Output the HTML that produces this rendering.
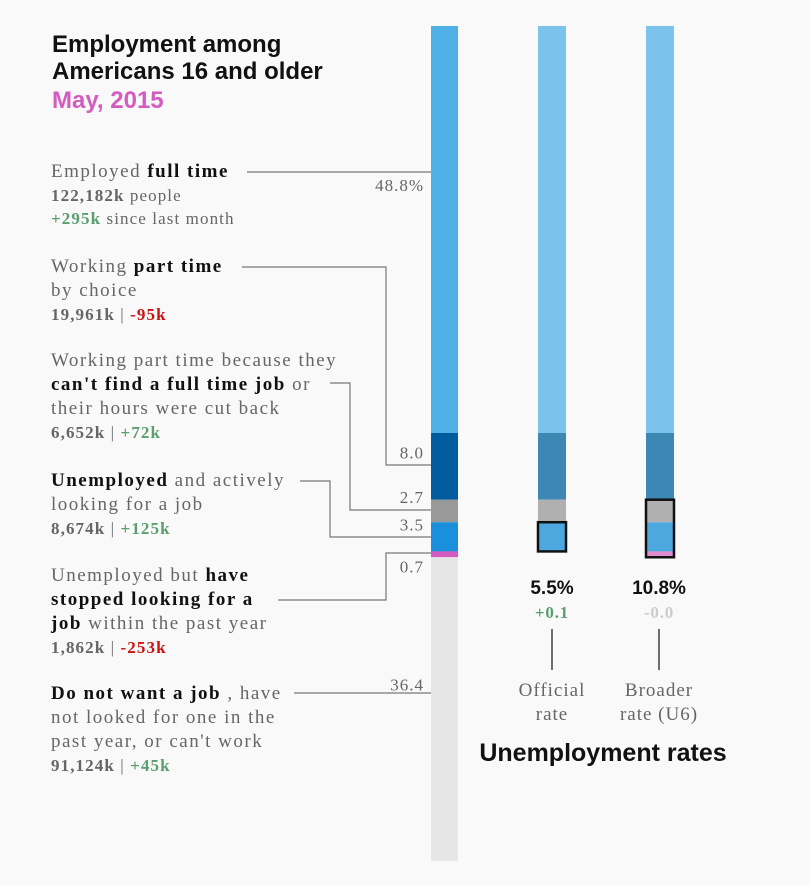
<!DOCTYPE html>
<html><head><meta charset="utf-8">
<style>
html,body{margin:0;padding:0;background:#f9f9f9;}
svg{display:block;}
.serif{font-family:"Liberation Serif","DejaVu Serif",serif;}
.sans{font-family:"Liberation Sans","DejaVu Sans",sans-serif;}
.lbl{font-size:19px;fill:#666;letter-spacing:1.5px;}
.b{font-weight:bold;fill:#111;}
.st{font-size:17px;fill:#666;letter-spacing:1.1px;}
.sb{font-weight:bold;fill:#666;}
.g{fill:#5a9e6f;font-weight:bold;}
.r{fill:#cc1111;font-weight:bold;}
.val{font-size:17px;fill:#666;text-anchor:end;letter-spacing:1px;}
</style></head>
<body>
<svg id="chart" width="810" height="886">
  <g class="sans" font-weight="bold">
    <text x="52" y="52" font-size="24" fill="#111">Employment among</text>
    <text x="52" y="79" font-size="24" fill="#111">Americans 16 and older</text>
    <text x="52" y="108" font-size="24" fill="#d45bbf">May, 2015</text>
  </g>

  <g class="serif">
    <text x="51" y="177" class="lbl">Employed <tspan class="b">full time</tspan></text>
    <text x="51" y="201" class="st"><tspan class="sb">122,182k</tspan> people</text>
    <text x="51" y="224" class="st"><tspan class="g">+295k</tspan> since last month</text>
  </g>
  <g class="serif">
    <text x="51" y="272" class="lbl">Working <tspan class="b">part time</tspan></text>
    <text x="51" y="296" class="lbl">by choice</text>
    <text x="51" y="320" class="st"><tspan class="sb">19,961k</tspan> | <tspan class="r">-95k</tspan></text>
  </g>
  <g class="serif">
    <text x="51" y="366" class="lbl">Working part time because they</text>
    <text x="51" y="390" class="lbl"><tspan class="b">can't find a full time job</tspan> or</text>
    <text x="51" y="414" class="lbl">their hours were cut back</text>
    <text x="51" y="438" class="st"><tspan class="sb">6,652k</tspan> | <tspan class="g">+72k</tspan></text>
  </g>
  <g class="serif">
    <text x="51" y="486" class="lbl"><tspan class="b">Unemployed</tspan>  and actively</text>
    <text x="51" y="510" class="lbl">looking for a job</text>
    <text x="51" y="534" class="st"><tspan class="sb">8,674k</tspan> |   <tspan class="g">+125k</tspan></text>
  </g>
  <g class="serif">
    <text x="51" y="581" class="lbl">Unemployed but  <tspan class="b">have</tspan></text>
    <text x="51" y="605" class="lbl b">stopped looking for a</text>
    <text x="51" y="629" class="lbl"><tspan class="b">job</tspan>  within the past year</text>
    <text x="51" y="653" class="st"><tspan class="sb">1,862k</tspan> | <tspan class="r">-253k</tspan></text>
  </g>
  <g class="serif">
    <text x="51" y="699" class="lbl"><tspan class="b">Do not want a job</tspan> , have</text>
    <text x="51" y="723" class="lbl">not looked for one in the</text>
    <text x="51" y="747" class="lbl">past year, or can't work</text>
    <text x="51" y="771" class="st"><tspan class="sb">91,124k</tspan> | <tspan class="g">+45k</tspan></text>
  </g>

  <g fill="none" stroke="#777" stroke-width="1.2">
    <path d="M247 172 H431"/>
    <path d="M242 267 H386 V465 H431"/>
    <path d="M330 383 H350 V510 H431"/>
    <path d="M300 481 H330 V537 H431"/>
    <path d="M278 600 H386 V553 H431"/>
    <path d="M294 693 H431"/>
  </g>

  <g id="mainbar"></g>
  <g id="values" class="serif"></g>
  <g id="rates"></g>

  <g>
    <text x="552" y="594" class="sans" font-size="19" font-weight="bold" fill="#111" text-anchor="middle">5.5%</text>
    <text x="552" y="618" class="serif" font-size="17" font-weight="bold" fill="#5a9e6f" text-anchor="middle" letter-spacing="0.8">+0.1</text>
    <text x="659" y="594" class="sans" font-size="19" font-weight="bold" fill="#111" text-anchor="middle">10.8%</text>
    <text x="659" y="618" class="serif" font-size="17" font-weight="bold" fill="#ccc" text-anchor="middle" letter-spacing="0.8">-0.0</text>
    <line x1="552" y1="629" x2="552" y2="670" stroke="#111" stroke-width="1.2"/>
    <line x1="659" y1="629" x2="659" y2="670" stroke="#111" stroke-width="1.2"/>
    <text x="552" y="696" class="serif" font-size="19" fill="#666" text-anchor="middle" letter-spacing="1">Official</text>
    <text x="552" y="720" class="serif" font-size="19" fill="#666" text-anchor="middle" letter-spacing="1">rate</text>
    <text x="659" y="696" class="serif" font-size="19" fill="#666" text-anchor="middle" letter-spacing="1">Broader</text>
    <text x="659" y="720" class="serif" font-size="19" fill="#666" text-anchor="middle" letter-spacing="1">rate (U6)</text>
    <text x="603" y="761" class="sans" font-size="25" font-weight="bold" fill="#111" text-anchor="middle">Unemployment rates</text>
  </g>
</svg>
<script>
var categories = ["Full time","Part time by choice","Part time economic","Unemployed","Discouraged","Not in labor force"];
var shares = [48.8, 8.0, 2.7, 3.5, 0.7, 36.4];
var valueLabels = ["48.8%","8.0","2.7","3.5","0.7","36.4"];
var mainColors = ["#4fb0e5","#005c9e","#999999","#1a8fdc","#d45bbf","#e6e6e6"];
var rateColors = ["#7cc3ec","#3d87b5","#b0b0b0","#4da8e0","#e08ccc","none"];
var officialBox = [3, 3];
var u6Box = [2, 4];

var top0 = 26, bottom0 = 860;
function y(pct){ return top0 + (bottom0 - top0) * pct / 100; }
function cum(i){ var s=0; for(var k=0;k<i;k++) s+=shares[k]; return s; }
var NS = "http://www.w3.org/2000/svg";
var main = document.getElementById('mainbar');
var vals = document.getElementById('values');
var rates = document.getElementById('rates');

for (var i=0;i<shares.length;i++){
  var r = document.createElementNS(NS,'rect');
  r.setAttribute('x',431); r.setAttribute('width',27);
  r.setAttribute('y',y(cum(i))); r.setAttribute('height',y(cum(i+1))-y(cum(i)));
  r.setAttribute('fill',mainColors[i]);
  
  
  main.appendChild(r);
  var t = document.createElementNS(NS,'text');
  var yy;
  if(i===0) yy = y(cum(i)) + 165;
  if(i===1) yy = y(cum(i+1)) - 41;
  if(i===2) yy = y(cum(i+1)) - 19;
  if(i===3) yy = y(cum(i+1)) - 21;
  if(i===4) yy = y(cum(i+1)) + 15;
  if(i===5) yy = y(cum(i)) + 133;
  t.setAttribute('x',424); t.setAttribute('y',yy);
  t.setAttribute('class','val');
  t.textContent = valueLabels[i];
  
  
  vals.appendChild(t);
}

function rateBar(x, lastIdx, box){
  for (var i=0;i<=lastIdx;i++){
    var r = document.createElementNS(NS,'rect');
    r.setAttribute('x',x); r.setAttribute('width',28);
    r.setAttribute('y',y(cum(i))); r.setAttribute('height',y(cum(i+1))-y(cum(i)));
    r.setAttribute('fill',rateColors[i]);
    
    
    rates.appendChild(r);
  }
  var b = document.createElementNS(NS,'rect');
  b.setAttribute('x',x); b.setAttribute('width',28);
  b.setAttribute('y',y(cum(box[0]))); b.setAttribute('height',y(cum(box[1]+1))-y(cum(box[0])));
  b.setAttribute('fill','none'); b.setAttribute('stroke','#111'); b.setAttribute('stroke-width','2.5');
  
  
  rates.appendChild(b);
}
rateBar(538, 3, officialBox);
rateBar(646, 4, u6Box);
</script>
</body></html>
